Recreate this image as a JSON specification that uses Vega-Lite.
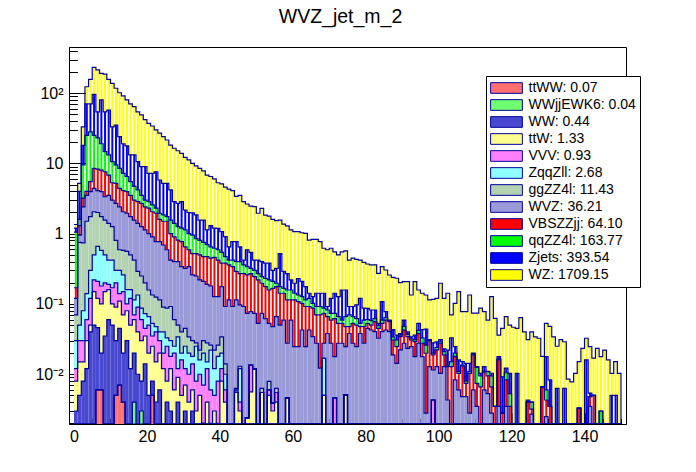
{
  "$schema": "https://vega.github.io/schema/vega-lite/v6.json",
  "width": 557,
  "height": 377,
  "autosize": "none",
  "padding": {"left": 69, "top": 47, "right": 70, "bottom": 48},
  "background": "white",
  "title": {"text": "WVZ_jet_m_2", "font": "Liberation Sans", "fontSize": 19.5, "fontWeight": "normal", "color": "black", "anchor": "middle", "dx": -7, "offset": 0, "baseline": "alphabetic"},
  "data": {"values": [
    {"b":0,"WZ":1.35,"Zj":1.2,"qq":1.05,"VBS":0.17,"WVZ":0.12,"gg":0.07,"Zqq":0.03,"VVV":0.012,"ttW":0.008,"WW":0.003},
    {"b":1,"WZ":5.2,"Zj":4.0,"qq":1.6,"VBS":1.3,"WVZ":0.95,"gg":0.75,"Zqq":0.05,"VVV":0.03,"ttW":0.015,"WW":0.005},
    {"b":2,"WZ":33,"Zj":18,"qq":9.5,"VBS":3.2,"WVZ":2.4,"gg":0.74,"Zqq":0.08,"VVV":0.03,"ttW":0.015,"WW":0.008},
    {"b":3,"WZ":123,"Zj":70,"qq":25,"VBS":4,"WVZ":3.5,"gg":1.5,"Zqq":0.14,"VVV":0.06,"ttW":0.03,"WW":0.012},
    {"b":4,"WZ":157,"Zj":70,"qq":28,"VBS":5.5,"WVZ":3.95,"gg":1.75,"Zqq":0.3,"VVV":0.12,"ttW":0.05,"WW":0.04},
    {"b":5,"WZ":232,"Zj":96,"qq":25,"VBS":8.5,"WVZ":4.4,"gg":2.05,"Zqq":0.5,"VVV":0.22,"ttW":0.15,"WW":0.05},
    {"b":6,"WZ":213,"Zj":54,"qq":23,"VBS":8.3,"WVZ":4.1,"gg":2.0,"Zqq":0.66,"VVV":0.21,"ttW":0.12,"WW":0.046,"jj":0.006,"ttWW":0.006},
    {"b":7,"WZ":191,"Zj":80,"qq":19,"VBS":8.0,"WVZ":3.95,"gg":1.75,"Zqq":0.58,"VVV":0.18,"ttW":0.1,"WW":0.02,"jj":0.006,"ttWW":0.006},
    {"b":8,"WZ":186,"Zj":54,"qq":14.7,"VBS":7.6,"WVZ":3.35,"gg":1.56,"Zqq":0.5,"VVV":0.2,"ttW":0.15,"WW":0.035},
    {"b":9,"WZ":157,"Zj":57,"qq":13.2,"VBS":6.8,"WVZ":3.5,"gg":1.4,"Zqq":0.42,"VVV":0.19,"ttW":0.16,"WW":0.06},
    {"b":10,"WZ":137,"Zj":33,"qq":10.6,"VBS":5.3,"WVZ":3.0,"gg":1.26,"Zqq":0.42,"VVV":0.17,"ttW":0.1,"WW":0.05},
    {"b":11,"WZ":117,"Zj":35,"qq":9.5,"VBS":5.2,"WVZ":2.7,"gg":0.8,"Zqq":0.3,"VVV":0.2,"ttW":0.09,"WW":0.03,"jj":0.005,"ttWW":0.005},
    {"b":12,"WZ":101,"Zj":24,"qq":8.5,"VBS":4.4,"WVZ":2.4,"gg":0.59,"Zqq":0.3,"VVV":0.14,"ttW":0.11,"WW":0.045,"jj":0.007,"ttWW":0.007},
    {"b":13,"WZ":91,"Zj":19,"qq":7.2,"VBS":4.1,"WVZ":2.05,"gg":0.58,"Zqq":0.26,"VVV":0.15,"ttW":0.07,"WW":0.02,"jj":0.004,"ttWW":0.004},
    {"b":14,"WZ":80,"Zj":17.7,"qq":6.5,"VBS":3.95,"WVZ":1.95,"gg":0.56,"Zqq":0.16,"VVV":0.1,"ttW":0.08,"WW":0.03},
    {"b":15,"WZ":70,"Zj":13.2,"qq":5.5,"VBS":3.5,"WVZ":1.75,"gg":0.5,"Zqq":0.16,"VVV":0.12,"ttW":0.05,"WW":0.012},
    {"b":16,"WZ":64,"Zj":13.2,"qq":4.7,"VBS":3.0,"WVZ":1.56,"gg":0.42,"Zqq":0.114,"VVV":0.07,"ttW":0.06,"WW":0.02,"jj":0.004},
    {"b":17,"WZ":54,"Zj":10.6,"qq":4.2,"VBS":2.85,"WVZ":1.4,"gg":0.29,"Zqq":0.134,"VVV":0.09,"ttW":0.04,"WW":0.01},
    {"b":18,"WZ":49,"Zj":9.0,"qq":3.5,"VBS":2.7,"WVZ":1.26,"gg":0.25,"Zqq":0.087,"VVV":0.06,"ttW":0.03,"WW":0.008,"jj":0.003},
    {"b":19,"WZ":42,"Zj":9.0,"qq":3.0,"VBS":2.4,"WVZ":1.13,"gg":0.2,"Zqq":0.073,"VVV":0.045,"ttW":0.035,"WW":0.014},
    {"b":20,"WZ":37,"Zj":7.2,"qq":2.85,"VBS":2.3,"WVZ":1.0,"gg":0.158,"Zqq":0.066,"VVV":0.05,"ttW":0.02,"WW":0.005},
    {"b":21,"WZ":34,"Zj":7.2,"qq":2.56,"VBS":2.05,"WVZ":0.9,"gg":0.134,"Zqq":0.053,"VVV":0.035,"ttW":0.025,"WW":0.008,"jj":0.005,"ttWW":0.005},
    {"b":22,"WZ":30,"Zj":7.6,"qq":2.3,"VBS":1.95,"WVZ":0.77,"gg":0.125,"Zqq":0.0475,"VVV":0.04,"ttW":0.015,"WW":0.004},
    {"b":23,"WZ":27,"Zj":5.8,"qq":1.95,"VBS":1.6,"WVZ":0.77,"gg":0.114,"Zqq":0.04,"VVV":0.03,"ttW":0.02,"WW":0.006},
    {"b":24,"WZ":24,"Zj":5.2,"qq":1.85,"VBS":1.5,"WVZ":0.69,"gg":0.09,"Zqq":0.04,"VVV":0.02,"ttW":0.012},
    {"b":25,"WZ":21.5,"Zj":5.2,"qq":1.75,"VBS":1.5,"WVZ":0.59,"gg":0.087,"Zqq":0.033,"VVV":0.025,"ttW":0.008,"WW":0.004},
    {"b":26,"WZ":18.2,"Zj":4.2,"qq":1.56,"VBS":1.0,"WVZ":0.42,"gg":0.092,"Zqq":0.03,"VVV":0.018,"ttW":0.012,"WW":0.003},
    {"b":27,"WZ":16.4,"Zj":2.85,"qq":1.4,"VBS":0.9,"WVZ":0.4,"gg":0.06,"Zqq":0.025,"VVV":0.02,"ttW":0.006},
    {"b":28,"WZ":15.1,"Zj":2.7,"qq":1.26,"VBS":0.81,"WVZ":0.4,"gg":0.05,"Zqq":0.034,"VVV":0.012,"ttW":0.009,"WW":0.004},
    {"b":29,"WZ":13.9,"Zj":2.85,"qq":1.2,"VBS":0.77,"WVZ":0.34,"gg":0.04,"Zqq":0.02,"VVV":0.016,"ttW":0.005},
    {"b":30,"WZ":12.2,"Zj":2.17,"qq":1.13,"VBS":0.65,"WVZ":0.32,"gg":0.045,"Zqq":0.025,"VVV":0.012,"ttW":0.007,"WW":0.003},
    {"b":31,"WZ":11.2,"Zj":2.0,"qq":1.0,"VBS":0.59,"WVZ":0.34,"gg":0.034,"Zqq":0.02,"VVV":0.01,"ttW":0.004},
    {"b":32,"WZ":10,"Zj":1.97,"qq":0.95,"VBS":0.52,"WVZ":0.26,"gg":0.03,"Zqq":0.018,"VVV":0.014,"ttW":0.006,"WW":0.003},
    {"b":33,"WZ":9.2,"Zj":1.85,"qq":0.85,"VBS":0.52,"WVZ":0.25,"gg":0.028,"Zqq":0.025,"VVV":0.008,"ttW":0.003},
    {"b":34,"WZ":8.5,"Zj":1.56,"qq":0.8,"VBS":0.5,"WVZ":0.22,"gg":0.022,"Zqq":0.016,"VVV":0.01,"ttW":0.005},
    {"b":35,"WZ":7.8,"Zj":1.56,"qq":0.75,"VBS":0.47,"WVZ":0.21,"gg":0.03,"Zqq":0.02,"VVV":0.007,"ttW":0.002,"WW":0.002},
    {"b":36,"WZ":6.8,"Zj":1.13,"qq":0.7,"VBS":0.47,"WVZ":0.19,"gg":0.028,"Zqq":0.015,"VVV":0.012,"ttW":0.004},
    {"b":37,"WZ":6.5,"Zj":1.3,"qq":0.65,"VBS":0.45,"WVZ":0.18,"gg":0.026,"Zqq":0.022,"VVV":0.006,"ttW":0.002},
    {"b":38,"WZ":6.0,"Zj":1.2,"qq":0.62,"VBS":0.46,"WVZ":0.127,"gg":0.022,"Zqq":0.012,"VVV":0.005,"ttW":0.003},
    {"b":39,"WZ":5.3,"Zj":1.19,"qq":0.59,"VBS":0.42,"WVZ":0.127,"gg":0.026,"Zqq":0.018,"VVV":0.008,"ttW":0.002},
    {"b":40,"WZ":5.1,"Zj":1.07,"qq":0.54,"VBS":0.38,"WVZ":0.176,"gg":0.034,"Zqq":0.02,"VVV":0.012,"ttW":0.008},
    {"b":41,"WZ":4.6,"Zj":0.91,"qq":0.47,"VBS":0.38,"WVZ":0.092,"gg":0.014,"Zqq":0.01,"VVV":0.006,"ttW":0.004},
    {"b":42,"WZ":4.3,"Zj":0.65,"qq":0.42,"VBS":0.36,"WVZ":0.114},
    {"b":43,"WZ":4.1,"Zj":0.77,"qq":0.42,"VBS":0.34,"WVZ":0.092},
    {"b":44,"WZ":3.4,"Zj":0.77,"qq":0.4,"VBS":0.29,"WVZ":0.114,"gg":0.0063,"Zqq":0.006,"VVV":0.0058,"ttW":0.0055},
    {"b":45,"WZ":3.5,"Zj":0.65,"qq":0.4,"VBS":0.27,"WVZ":0.097,"gg":0.013,"Zqq":0.012,"VVV":0.004,"ttW":0.003},
    {"b":46,"WZ":2.85,"Zj":0.42,"qq":0.36,"VBS":0.27,"WVZ":0.092},
    {"b":47,"WZ":2.64,"Zj":0.59,"qq":0.34,"VBS":0.26,"WVZ":0.0736,"gg":0.0024,"Zqq":0.0024,"VVV":0.0024,"ttW":0.0024},
    {"b":48,"WZ":2.47,"Zj":0.54,"qq":0.32,"VBS":0.27,"WVZ":0.078,"gg":0.0135,"Zqq":0.0135,"VVV":0.0135,"ttW":0.0056},
    {"b":49,"WZ":2.42,"Zj":0.42,"qq":0.3,"VBS":0.245,"WVZ":0.0736,"gg":0.0119,"Zqq":0.0119,"VVV":0.0119,"ttW":0.0119},
    {"b":50,"WZ":1.95,"Zj":0.42,"qq":0.27,"VBS":0.22,"WVZ":0.053},
    {"b":51,"WZ":2.29,"Zj":0.4,"qq":0.245,"VBS":0.197,"WVZ":0.0736,"gg":0.0063,"Zqq":0.0055,"VVV":0.0055,"ttW":0.0055},
    {"b":52,"WZ":1.84,"Zj":0.38,"qq":0.23,"VBS":0.176,"WVZ":0.062},
    {"b":53,"WZ":1.78,"Zj":0.38,"qq":0.22,"VBS":0.158,"WVZ":0.053,"gg":0.0079,"Zqq":0.006,"VVV":0.006,"ttW":0.005},
    {"b":54,"WZ":1.6,"Zj":0.3,"qq":0.21,"VBS":0.167,"WVZ":0.0475,"gg":0.0039,"Zqq":0.0039,"VVV":0.0039,"ttW":0.003},
    {"b":55,"WZ":1.53,"Zj":0.32,"qq":0.197,"VBS":0.176,"WVZ":0.066,"gg":0.0063,"Zqq":0.0055,"VVV":0.0055,"ttW":0.004},
    {"b":56,"WZ":1.56,"Zj":0.52,"qq":0.176,"VBS":0.142,"WVZ":0.05},
    {"b":57,"WZ":1.37,"Zj":0.29,"qq":0.167,"VBS":0.142,"WVZ":0.059},
    {"b":58,"WZ":1.29,"Zj":0.27,"qq":0.158,"VBS":0.114,"WVZ":0.0276,"gg":0.0046,"Zqq":0.0046,"VVV":0.0046,"ttW":0.0046},
    {"b":59,"WZ":1.13,"Zj":0.22,"qq":0.158,"VBS":0.114,"WVZ":0.059},
    {"b":60,"WZ":1.07,"Zj":0.197,"qq":0.142,"VBS":0.114,"WVZ":0.0247},
    {"b":61,"WZ":1.07,"Zj":0.23,"qq":0.134,"VBS":0.108,"WVZ":0.0247},
    {"b":62,"WZ":1.03,"Zj":0.21,"qq":0.127,"VBS":0.102,"WVZ":0.0426},
    {"b":63,"WZ":1.01,"Zj":0.176,"qq":0.114,"VBS":0.092,"WVZ":0.0247},
    {"b":64,"WZ":0.81,"Zj":0.142,"qq":0.12,"VBS":0.092,"WVZ":0.0426},
    {"b":65,"WZ":0.83,"Zj":0.127,"qq":0.102,"VBS":0.087,"WVZ":0.0343},
    {"b":66,"WZ":0.83,"Zj":0.142,"qq":0.092,"VBS":0.07,"WVZ":0.0276},
    {"b":67,"WZ":0.77,"Zj":0.142,"qq":0.092,"VBS":0.07,"WVZ":0.0122},
    {"b":68,"WZ":0.62,"Zj":0.142,"qq":0.087,"VBS":0.0736,"WVZ":0.0276,"gg":0.0169,"Zqq":0.0169,"VVV":0.005,"ttW":0.005},
    {"b":69,"WZ":0.59,"Zj":0.092,"qq":0.082,"VBS":0.066,"WVZ":0.038},
    {"b":70,"WZ":0.62,"Zj":0.12,"qq":0.0736,"VBS":0.059,"WVZ":0.0276},
    {"b":71,"WZ":0.55,"Zj":0.142,"qq":0.0736,"VBS":0.062,"WVZ":0.0178,"gg":0.0046,"Zqq":0.0046,"VVV":0.0046},
    {"b":72,"WZ":0.5,"Zj":0.127,"qq":0.066,"VBS":0.053,"WVZ":0.0276},
    {"b":73,"WZ":0.55,"Zj":0.158,"qq":0.059,"VBS":0.053,"WVZ":0.0276},
    {"b":74,"WZ":0.57,"Zj":0.158,"qq":0.066,"VBS":0.0475,"WVZ":0.0247,"gg":0.0051,"Zqq":0.0051,"VVV":0.0051,"ttW":0.0051},
    {"b":75,"WZ":0.42,"Zj":0.092,"qq":0.07,"VBS":0.0475,"WVZ":0.038},
    {"b":76,"WZ":0.45,"Zj":0.092,"qq":0.066,"VBS":0.053,"WVZ":0.0276},
    {"b":77,"WZ":0.43,"Zj":0.097,"qq":0.062,"VBS":0.05,"WVZ":0.0247},
    {"b":78,"WZ":0.42,"Zj":0.12,"qq":0.053,"VBS":0.0475,"WVZ":0.038},
    {"b":79,"WZ":0.39,"Zj":0.087,"qq":0.059,"VBS":0.0475,"WVZ":0.0276},
    {"b":80,"WZ":0.37,"Zj":0.0867,"qq":0.06,"VBS":0.053,"WVZ":0.045},
    {"b":81,"WZ":0.36,"Zj":0.082,"qq":0.058,"VBS":0.05,"WVZ":0.0426},
    {"b":82,"WZ":0.36,"Zj":0.082,"qq":0.062,"VBS":0.056,"WVZ":0.0404},
    {"b":83,"WZ":0.273,"Zj":0.053,"qq":0.049,"VBS":0.045,"WVZ":0.0325},
    {"b":84,"WZ":0.34,"Zj":0.108,"qq":0.059,"VBS":0.053,"WVZ":0.0404},
    {"b":85,"WZ":0.304,"Zj":0.078,"qq":0.064,"VBS":0.059,"WVZ":0.0426},
    {"b":86,"WZ":0.258,"Zj":0.059,"qq":0.058,"VBS":0.056,"WVZ":0.0404},
    {"b":87,"WZ":0.239,"Zj":0.043,"qq":0.034,"VBS":0.0307,"WVZ":0.0188},
    {"b":88,"WZ":0.232,"Zj":0.036,"qq":0.0307,"VBS":0.0247,"WVZ":0.0143},
    {"b":89,"WZ":0.201,"Zj":0.038,"qq":0.036,"VBS":0.0343,"WVZ":0.0222},
    {"b":90,"WZ":0.208,"Zj":0.059,"qq":0.048,"VBS":0.0426,"WVZ":0.0276},
    {"b":91,"WZ":0.208,"Zj":0.04,"qq":0.037,"VBS":0.0343,"WVZ":0.0234},
    {"b":92,"WZ":0.134,"Zj":0.034,"qq":0.032,"VBS":0.0307,"WVZ":0.0247},
    {"b":93,"WZ":0.208,"Zj":0.036,"qq":0.031,"VBS":0.0291,"WVZ":0.0178},
    {"b":94,"WZ":0.158,"Zj":0.053,"qq":0.042,"VBS":0.038,"WVZ":0.0276},
    {"b":95,"WZ":0.142,"Zj":0.043,"qq":0.033,"VBS":0.0276,"WVZ":0.0178},
    {"b":96,"WZ":0.134,"Zj":0.044,"qq":0.026,"VBS":0.0199,"WVZ":0.0028},
    {"b":97,"WZ":0.114,"Zj":0.031,"qq":0.0307,"VBS":0.03,"WVZ":0.0128},
    {"b":98,"WZ":0.116,"Zj":0.028,"qq":0.02,"VBS":0.0188,"WVZ":0.0115,"gg":0.0043,"Zqq":0.0043,"VVV":0.0043},
    {"b":99,"WZ":0.12,"Zj":0.029,"qq":0.024,"VBS":0.0222,"WVZ":0.0128},
    {"b":100,"WZ":0.197,"Zj":0.031,"qq":0.029,"VBS":0.0276,"WVZ":0.0103},
    {"b":101,"WZ":0.12,"Zj":0.023,"qq":0.021,"VBS":0.0188,"WVZ":0.0128},
    {"b":102,"WZ":0.142,"Zj":0.022,"qq":0.0135,"VBS":0.0128,"WVZ":0.0043},
    {"b":103,"WZ":0.07,"Zj":0.033,"qq":0.0151,"VBS":0.0128},
    {"b":104,"WZ":0.102,"Zj":0.0247,"qq":0.02,"VBS":0.018,"WVZ":0.0083},
    {"b":105,"WZ":0.15,"Zj":0.016,"qq":0.011,"VBS":0.0103,"WVZ":0.006},
    {"b":106,"WZ":0.078,"Zj":0.0151,"qq":0.0135,"VBS":0.013,"WVZ":0.0048},
    {"b":107,"WZ":0.078,"Zj":0.0143,"qq":0.008,"VBS":0.0074,"WVZ":0.0048},
    {"b":108,"WZ":0.134,"Zj":0.0143,"qq":0.011,"VBS":0.0103,"WVZ":0.0028},
    {"b":109,"WZ":0.074,"Zj":0.02,"qq":0.0195,"VBS":0.0188,"WVZ":0.006},
    {"b":110,"WZ":0.074,"Zj":0.0128,"qq":0.0125,"VBS":0.0074,"WVZ":0.0035},
    {"b":111,"WZ":0.087,"Zj":0.0103,"qq":0.0095,"VBS":0.0066},
    {"b":112,"WZ":0.078,"Zj":0.0128,"qq":0.011,"VBS":0.0105,"WVZ":0.006},
    {"b":113,"WZ":0.059,"Zj":0.011,"qq":0.0109,"VBS":0.0095,"WVZ":0.0053},
    {"b":114,"WZ":0.127,"Zj":0.0103,"qq":0.0095,"VBS":0.0066,"WVZ":0.0028},
    {"b":115,"WZ":0.0625,"Zj":0.0035,"qq":0.0035,"VBS":0.0035},
    {"b":116,"WZ":0.036,"Zj":0.0178,"qq":0.0165,"VBS":0.016,"WVZ":0.0035},
    {"b":117,"WZ":0.045,"Zj":0.0092,"qq":0.0028,"VBS":0.0028},
    {"b":118,"WZ":0.066,"Zj":0.0122,"qq":0.0105,"VBS":0.0083,"WVZ":0.0035},
    {"b":119,"WZ":0.05,"Zj":0.0103,"qq":0.0053,"VBS":0.0035},
    {"b":120,"WZ":0.0466},
    {"b":121,"WZ":0.045,"Zj":0.0103},
    {"b":122,"WZ":0.064},
    {"b":123,"WZ":0.04},
    {"b":124,"WZ":0.031,"Zj":0.0043,"qq":0.004,"VBS":0.004},
    {"b":125,"WZ":0.04,"Zj":0.004,"qq":0.004,"VBS":0.0032,"WVZ":0.0027},
    {"b":126,"WZ":0.034},
    {"b":127,"WZ":0.0325},
    {"b":128,"WZ":0.018,"Zj":0.0066,"qq":0.0066,"VBS":0.0066},
    {"b":129,"WZ":0.053,"Zj":0.0178,"qq":0.006,"VBS":0.0043,"WVZ":0.0025},
    {"b":130,"WZ":0.048,"Zj":0.0083,"qq":0.0035,"VBS":0.0035},
    {"b":131,"WZ":0.034},
    {"b":132,"WZ":0.025,"Zj":0.0063},
    {"b":133,"WZ":0.031},
    {"b":134,"WZ":0.029,"Zj":0.0063},
    {"b":135,"WZ":0.0085},
    {"b":136,"WZ":0.0078},
    {"b":137,"WZ":0.0103},
    {"b":138,"WZ":0.0151,"Zj":0.0033,"qq":0.0033,"VBS":0.0033},
    {"b":139,"WZ":0.0234},
    {"b":140,"WZ":0.0325,"Zj":0.016},
    {"b":141,"WZ":0.0247,"Zj":0.0054,"qq":0.0048,"VBS":0.0048,"WVZ":0.0035},
    {"b":142,"WZ":0.017,"Zj":0.005,"qq":0.005,"VBS":0.005},
    {"b":143,"WZ":0.0234},
    {"b":144,"WZ":0.0178,"Zj":0.003,"qq":0.003},
    {"b":145,"WZ":0.022},
    {"b":146,"WZ":0.016},
    {"b":147,"WZ":0.0103,"Zj":0.005},
    {"b":148,"WZ":0.0151,"Zj":0.005},
    {"b":149,"WZ":0.0103},
    {"b":150}
  ]},
  "transform": [{"bin": {"step": 1, "extent": [0, 151]}, "field": "b", "as": ["lo", "hi"]}],
  "encoding": {
    "x": {"field": "lo", "type": "quantitative", "scale": {"domain": [0, 150], "nice": false, "zero": false},
      "axis": {"title": null, "values": [0,5,10,15,20,25,30,35,40,45,50,55,60,65,70,75,80,85,90,95,100,105,110,115,120,125,130,135,140,145,150],
        "labelExpr": "datum.value % 20 == 0 ? datum.label : ''",
        "tickSize": {"condition": {"test": "datum.value % 20 == 0", "value": -11}, "value": -5.6},
        "labelPadding": 15.5, "labelOverlap": false, "labelFlush": false}}
  },
  "layer": [
    {"mark": {"type": "bar", "width": 2, "xOffset": 1.86, "clip": true},
     "encoding": {"y": {"field": "WZ", "type": "quantitative", "scale": {"type": "log", "domain": [0.00196, 452], "nice": false, "clamp": true}},
       "y2": {"field": "Zj"},
       "color": {"datum": "WZ: 1709.15", "type": "nominal",
         "scale": {"domain": ["ttWW: 0.07", "WWjjEWK6: 0.04", "WW: 0.44", "ttW: 1.33", "VVV: 0.93", "ZqqZll: 2.68", "ggZZ4l: 11.43", "WVZ: 36.21", "VBSZZjj: 64.10", "qqZZ4l: 163.77", "Zjets: 393.54", "WZ: 1709.15"],
           "range": ["#ff7070", "#70ff70", "#4848d0", "#ffff90", "#ff80ff", "#90ffff", "#b2d2b2", "#9a9ad8", "#ff0000", "#00ff00", "#0000ff", "#ffff00"]},
         "legend": {"title": null, "orient": "none", "legendX": 417, "legendY": 29, "fillColor": "white", "strokeColor": "black", "padding": 4,
           "labelFont": "Liberation Sans", "labelFontSize": 14, "labelColor": "black", "labelLimit": 300,
           "symbolType": "M-2.14,-0.72H2.14V0.72H-2.14Z", "symbolSize": 220, "symbolStrokeColor": "#00009c", "symbolStrokeWidth": 1, "symbolOpacity": 1,
           "symbolOffset": 8.5, "labelOffset": 14, "rowPadding": 1}}}},
    {"mark": {"type": "bar", "width": 2, "xOffset": 1.86, "clip": true},
     "encoding": {"y": {"field": "Zj", "type": "quantitative", "scale": {"type": "log", "domain": [0.00196, 452], "nice": false, "clamp": true}},
       "y2": {"field": "qq"}, "color": {"datum": "Zjets: 393.54", "type": "nominal"}}},
    {"mark": {"type": "bar", "width": 2, "xOffset": 1.86, "clip": true},
     "encoding": {"y": {"field": "qq", "type": "quantitative", "scale": {"type": "log", "domain": [0.00196, 452], "nice": false, "clamp": true}},
       "y2": {"field": "VBS"}, "color": {"datum": "qqZZ4l: 163.77", "type": "nominal"}}},
    {"mark": {"type": "bar", "width": 2, "xOffset": 1.86, "clip": true},
     "encoding": {"y": {"field": "VBS", "type": "quantitative", "scale": {"type": "log", "domain": [0.00196, 452], "nice": false, "clamp": true}},
       "y2": {"field": "WVZ"}, "color": {"datum": "VBSZZjj: 64.10", "type": "nominal"}}},
    {"mark": {"type": "bar", "clip": true},
     "encoding": {"x2": {"field": "hi"}, "y": {"field": "WVZ", "type": "quantitative", "scale": {"type": "log", "domain": [0.00196, 452], "nice": false, "clamp": true}},
       "y2": {"field": "gg"}, "color": {"datum": "WVZ: 36.21", "type": "nominal"}}},
    {"mark": {"type": "bar", "clip": true},
     "encoding": {"x2": {"field": "hi"}, "y": {"field": "gg", "type": "quantitative", "scale": {"type": "log", "domain": [0.00196, 452], "nice": false, "clamp": true}},
       "y2": {"field": "Zqq"}, "color": {"datum": "ggZZ4l: 11.43", "type": "nominal"}}},
    {"mark": {"type": "bar", "clip": true},
     "encoding": {"x2": {"field": "hi"}, "y": {"field": "Zqq", "type": "quantitative", "scale": {"type": "log", "domain": [0.00196, 452], "nice": false, "clamp": true}},
       "y2": {"field": "VVV"}, "color": {"datum": "ZqqZll: 2.68", "type": "nominal"}}},
    {"mark": {"type": "bar", "clip": true},
     "encoding": {"x2": {"field": "hi"}, "y": {"field": "VVV", "type": "quantitative", "scale": {"type": "log", "domain": [0.00196, 452], "nice": false, "clamp": true}},
       "y2": {"field": "ttW"}, "color": {"datum": "VVV: 0.93", "type": "nominal"}}},
    {"mark": {"type": "bar", "clip": true},
     "encoding": {"x2": {"field": "hi"}, "y": {"field": "ttW", "type": "quantitative", "scale": {"type": "log", "domain": [0.00196, 452], "nice": false, "clamp": true}},
       "y2": {"field": "WW"}, "color": {"datum": "ttW: 1.33", "type": "nominal"}}},
    {"mark": {"type": "bar", "clip": true},
     "encoding": {"x2": {"field": "hi"}, "y": {"field": "WW", "type": "quantitative", "scale": {"type": "log", "domain": [0.00196, 452], "nice": false, "clamp": true}},
       "y2": {"field": "jj"}, "color": {"datum": "WW: 0.44", "type": "nominal"}}},
    {"mark": {"type": "bar", "clip": true},
     "encoding": {"x2": {"field": "hi"}, "y": {"field": "jj", "type": "quantitative", "scale": {"type": "log", "domain": [0.00196, 452], "nice": false, "clamp": true}},
       "y2": {"field": "ttWW"}, "color": {"datum": "WWjjEWK6: 0.04", "type": "nominal"}}},
    {"mark": {"type": "bar", "clip": true},
     "encoding": {"x2": {"field": "hi"}, "y": {"field": "ttWW", "type": "quantitative", "scale": {"type": "log", "domain": [0.00196, 452], "nice": false, "clamp": true}},
       "y2": {"datum": 0.00196}, "color": {"datum": "ttWW: 0.07", "type": "nominal"}}},
    {"transform": [{"fold": ["WZ", "Zj", "qq", "VBS", "WVZ", "gg", "Zqq", "VVV", "ttW", "WW", "jj", "ttWW"], "as": ["k", "v"]}],
     "mark": {"type": "line", "interpolate": "step-after", "color": "#00009c", "strokeWidth": 1.2, "clip": true},
     "encoding": {
       "y": {"field": "v", "type": "quantitative", "scale": {"type": "log", "domain": [0.00196, 452], "nice": false, "clamp": true},
         "axis": {"title": null,
           "values": [0.002,0.003,0.004,0.005,0.006,0.007,0.008,0.009,0.01,0.02,0.03,0.04,0.05,0.06,0.07,0.08,0.09,0.1,0.2,0.3,0.4,0.5,0.6,0.7,0.8,0.9,1,2,3,4,5,6,7,8,9,10,20,30,40,50,60,70,80,90,100,200,300,400],
           "labelExpr": "abs(log(datum.value)/LN10 - round(log(datum.value)/LN10)) < 0.01 ? (datum.value > 50 ? '10²' : datum.value > 5 ? '10' : datum.value > 0.5 ? '1' : datum.value > 0.05 ? '10⁻¹' : '10⁻²') : ''",
           "tickSize": {"condition": {"test": "abs(log(datum.value)/LN10 - round(log(datum.value)/LN10)) < 0.01", "value": -16.7}, "value": -8.4},
           "labelPadding": 22.7, "labelOverlap": false, "labelFlush": false}},
       "detail": {"field": "k", "type": "nominal"}}}
  ],
  "config": {
    "view": {"stroke": "black", "strokeWidth": 1},
    "mark": {"invalid": "show"},
    "axis": {"grid": false, "domainColor": "black", "tickColor": "black", "tickWidth": 1, "labelColor": "black", "labelFont": "Liberation Sans", "labelFontSize": 16}
  }
}
